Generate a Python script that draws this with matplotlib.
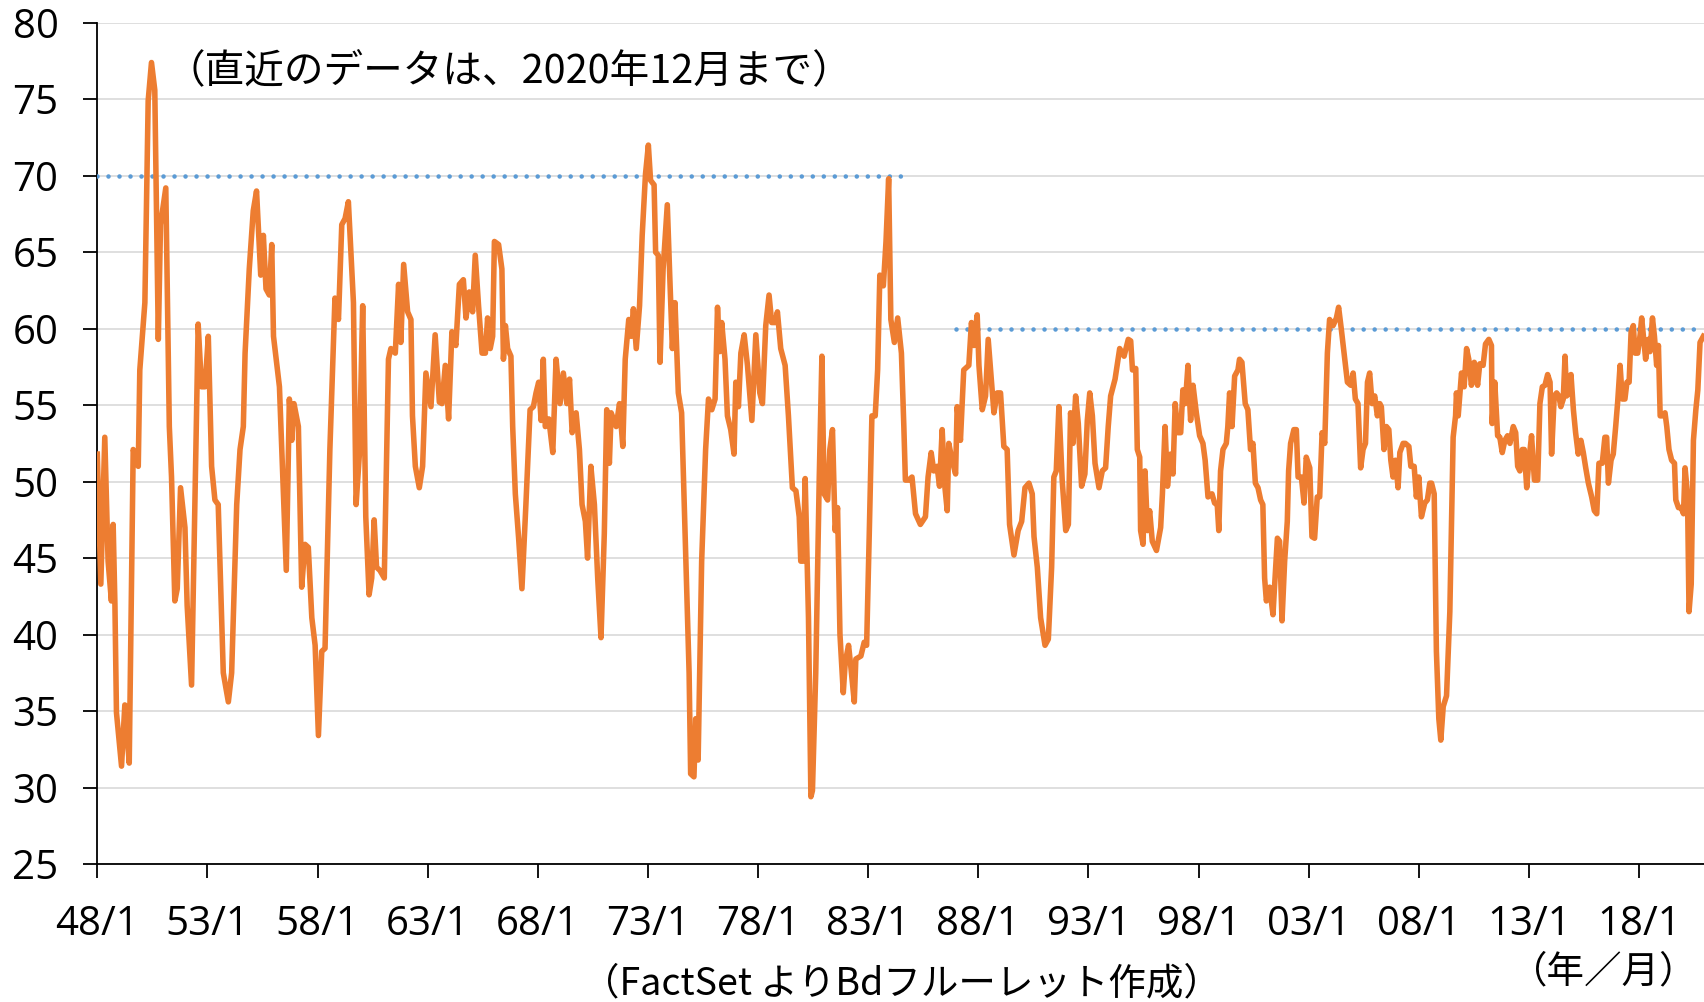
import matplotlib.pyplot as plt

# values (decimal year, index level)
years = [
    1948.00, 1948.16, 1948.34, 1948.49, 1948.64, 1948.72, 1948.80, 1948.87, 1949.10, 1949.25,
    1949.45, 1949.63, 1949.86, 1949.93, 1950.16, 1950.31, 1950.46, 1950.61, 1950.77, 1950.87,
    1951.11, 1951.27, 1951.37, 1951.52, 1951.63, 1951.78, 1951.98, 1952.08, 1952.28, 1952.58,
    1952.73, 1952.89, 1953.04, 1953.19, 1953.34, 1953.49, 1953.72, 1953.95, 1954.10, 1954.33,
    1954.48, 1954.63, 1954.71, 1954.90, 1955.08, 1955.23, 1955.42, 1955.54, 1955.66, 1955.81,
    1955.92, 1956.00, 1956.27, 1956.58, 1956.72, 1956.83, 1956.93, 1957.13, 1957.28, 1957.43,
    1957.58, 1957.74, 1957.89, 1958.04, 1958.19, 1958.34, 1958.56, 1958.79, 1958.95, 1959.10,
    1959.25, 1959.40, 1959.63, 1959.75, 1959.90, 1960.05, 1960.19, 1960.34, 1960.46, 1960.57,
    1960.68, 1960.83, 1961.03, 1961.22, 1961.33, 1961.53, 1961.68, 1961.78, 1961.91, 1962.09,
    1962.24, 1962.31, 1962.44, 1962.62, 1962.77, 1962.92, 1963.15, 1963.34, 1963.53, 1963.65,
    1963.80, 1963.95, 1964.10, 1964.28, 1964.44, 1964.62, 1964.74, 1964.89, 1965.04, 1965.16,
    1965.31, 1965.47, 1965.62, 1965.72, 1965.84, 1965.95, 1966.03, 1966.22, 1966.37, 1966.44,
    1966.53, 1966.63, 1966.78, 1966.86, 1966.98, 1967.13, 1967.28, 1967.46, 1967.65, 1967.80,
    1967.92, 1968.04, 1968.15, 1968.25, 1968.34, 1968.50, 1968.68, 1968.83, 1969.01, 1969.16,
    1969.32, 1969.44, 1969.56, 1969.74, 1969.89, 1970.01, 1970.16, 1970.26, 1970.41, 1970.57,
    1970.72, 1970.87, 1971.02, 1971.13, 1971.25, 1971.33, 1971.56, 1971.71, 1971.86, 1971.97,
    1972.13, 1972.24, 1972.34, 1972.47, 1972.62, 1972.74, 1972.89, 1973.02, 1973.12, 1973.28,
    1973.35, 1973.47, 1973.55, 1973.69, 1973.88, 1973.99, 1974.11, 1974.23, 1974.38, 1974.53,
    1974.69, 1974.87, 1974.94, 1975.09, 1975.17, 1975.28, 1975.44, 1975.62, 1975.75, 1975.90,
    1976.05, 1976.16, 1976.26, 1976.35, 1976.50, 1976.61, 1976.76, 1976.91, 1976.99, 1977.11,
    1977.22, 1977.37, 1977.52, 1977.72, 1977.90, 1978.08, 1978.20, 1978.35, 1978.50, 1978.62,
    1978.78, 1978.88, 1979.03, 1979.23, 1979.38, 1979.56, 1979.72, 1979.87, 1979.94, 1980.05,
    1980.14, 1980.29, 1980.40, 1980.47, 1980.62, 1980.78, 1980.90, 1981.00, 1981.16, 1981.26,
    1981.38, 1981.50, 1981.61, 1981.72, 1981.87, 1981.96, 1982.11, 1982.22, 1982.37, 1982.44,
    1982.67, 1982.82, 1982.93, 1983.05, 1983.17, 1983.32, 1983.43, 1983.53, 1983.69, 1983.81,
    1983.93, 1984.03, 1984.19, 1984.34, 1984.51, 1984.62, 1984.69, 1984.84, 1984.99, 1985.15,
    1985.37, 1985.60, 1985.72, 1985.86, 1985.98, 1986.13, 1986.24, 1986.36, 1986.48, 1986.59,
    1986.66, 1986.81, 1986.97, 1987.04, 1987.19, 1987.34, 1987.57, 1987.69, 1987.80, 1987.95,
    1988.03, 1988.18, 1988.33, 1988.45, 1988.56, 1988.71, 1988.86, 1989.01, 1989.16, 1989.31,
    1989.42, 1989.62, 1989.81, 1989.97, 1990.12, 1990.30, 1990.45, 1990.53, 1990.68, 1990.83,
    1991.03, 1991.18, 1991.33, 1991.43, 1991.54, 1991.66, 1991.81, 1991.97, 1992.09, 1992.19,
    1992.30, 1992.42, 1992.54, 1992.69, 1992.84, 1992.95, 1993.06, 1993.18, 1993.30, 1993.48,
    1993.63, 1993.78, 1993.90, 1994.01, 1994.21, 1994.42, 1994.62, 1994.81, 1994.92, 1995.00,
    1995.15, 1995.22, 1995.33, 1995.37, 1995.48, 1995.57, 1995.68, 1995.78, 1995.90, 1996.09,
    1996.28, 1996.36, 1996.48, 1996.59, 1996.73, 1996.84, 1996.94, 1997.06, 1997.19, 1997.29,
    1997.40, 1997.52, 1997.64, 1997.75, 1997.90, 1998.05, 1998.20, 1998.30, 1998.43, 1998.61,
    1998.73, 1998.85, 1998.92, 1999.00, 1999.11, 1999.26, 1999.33, 1999.41, 1999.52, 1999.64,
    1999.79, 1999.86, 1999.97, 2000.12, 2000.24, 2000.36, 2000.47, 2000.58, 2000.70, 2000.82,
    2000.92, 2001.00, 2001.08, 2001.23, 2001.38, 2001.45, 2001.58, 2001.68, 2001.79, 2001.91,
    2002.03, 2002.09, 2002.18, 2002.33, 2002.44, 2002.52, 2002.67, 2002.79, 2002.89, 2003.05,
    2003.15, 2003.27, 2003.39, 2003.50, 2003.61, 2003.73, 2003.85, 2003.95, 2004.11, 2004.26,
    2004.36, 2004.48, 2004.64, 2004.76, 2004.91, 2005.02, 2005.12, 2005.24, 2005.36, 2005.47,
    2005.58, 2005.67, 2005.77, 2005.88, 2006.00, 2006.12, 2006.23, 2006.30, 2006.42, 2006.53,
    2006.64, 2006.73, 2006.83, 2006.94, 2007.06, 2007.14, 2007.29, 2007.39, 2007.55, 2007.64,
    2007.79, 2007.89, 2008.00, 2008.12, 2008.27, 2008.39, 2008.50, 2008.58, 2008.70, 2008.80,
    2008.91, 2009.00, 2009.11, 2009.26, 2009.41, 2009.56, 2009.67, 2009.71, 2009.79, 2009.94,
    2010.06, 2010.17, 2010.27, 2010.39, 2010.52, 2010.67, 2010.77, 2010.92, 2011.03, 2011.18,
    2011.30, 2011.33, 2011.45, 2011.58, 2011.68, 2011.79, 2011.91, 2012.03, 2012.14, 2012.29,
    2012.40, 2012.49, 2012.59, 2012.70, 2012.79, 2012.90, 2013.00, 2013.12, 2013.25, 2013.40,
    2013.50, 2013.61, 2013.73, 2013.85, 2013.96, 2014.03, 2014.15, 2014.26, 2014.36, 2014.45,
    2014.56, 2014.64, 2014.71, 2014.82, 2014.91, 2015.02, 2015.12, 2015.24, 2015.36, 2015.47,
    2015.58, 2015.70, 2015.85, 2015.97, 2016.08, 2016.18, 2016.33, 2016.45, 2016.53, 2016.61,
    2016.73, 2016.83, 2016.94, 2017.03, 2017.14, 2017.24, 2017.36, 2017.45, 2017.55, 2017.64,
    2017.74, 2017.82, 2017.94, 2018.05, 2018.12, 2018.20, 2018.30, 2018.42, 2018.50, 2018.61,
    2018.70, 2018.80, 2018.88, 2018.96, 2019.06, 2019.18, 2019.26, 2019.36, 2019.48, 2019.61,
    2019.67, 2019.79, 2019.91, 2020.02, 2020.09, 2020.20, 2020.27, 2020.37, 2020.47, 2020.58,
    2020.67, 2020.77, 2020.92,
]
values = [
    51.8, 43.3, 52.9, 44.8, 42.2, 47.2, 42.0, 34.9, 31.4, 35.4,
    31.6, 52.1, 51.0, 57.3, 61.7, 74.9, 77.4, 75.6, 59.3, 66.8,
    69.2, 53.6, 50.3, 42.2, 43.0, 49.6, 47.0, 41.9, 36.7, 60.3,
    56.2, 56.2, 59.5, 51.0, 48.8, 48.5, 37.5, 35.6, 37.5, 48.5,
    52.1, 53.6, 58.4, 63.9, 67.7, 69.0, 63.5, 66.1, 62.6, 62.2,
    65.5, 59.5, 56.2, 44.2, 55.4, 52.7, 55.1, 53.6, 43.1, 45.9,
    45.7, 41.1, 39.3, 33.4, 38.9, 39.1, 52.1, 62.0, 60.6, 66.8,
    67.2, 68.3, 61.7, 48.5, 51.8, 61.5, 47.7, 42.6, 43.7, 47.5,
    44.4, 44.2, 43.7, 58.0, 58.7, 58.4, 62.9, 59.1, 64.2, 61.1,
    60.6, 54.3, 51.0, 49.6, 51.0, 57.1, 54.9, 59.6, 55.2, 55.1,
    57.6, 54.1, 59.8, 58.9, 62.9, 63.2, 60.7, 62.4, 61.1, 64.8,
    61.5, 58.4, 58.4, 60.7, 58.7, 59.5, 65.7, 65.5, 63.9, 58.0,
    60.2, 58.7, 58.2, 53.6, 49.2, 46.3, 43.0, 48.5, 54.7, 54.9,
    55.8, 56.5, 54.0, 58.0, 53.6, 54.1, 51.9, 58.0, 55.1, 57.1,
    55.1, 56.7, 53.2, 54.5, 52.1, 48.5, 47.4, 45.0, 51.0, 48.5,
    43.7, 39.8, 46.6, 54.7, 51.2, 54.5, 53.6, 55.1, 52.3, 58.0,
    60.6, 59.5, 61.3, 58.7, 61.5, 66.1, 70.1, 72.0, 69.7, 69.4,
    65.0, 64.8, 57.8, 63.9, 68.1, 63.5, 58.7, 61.7, 55.8, 54.5,
    46.6, 37.5, 30.9, 30.7, 34.5, 31.8, 44.8, 52.1, 55.4, 54.7,
    55.4, 61.4, 58.5, 60.4, 58.0, 54.3, 53.4, 51.8, 56.5, 54.9,
    58.4, 59.6, 57.6, 54.0, 59.6, 55.8, 55.1, 60.2, 62.2, 60.4,
    60.4, 61.1, 58.7, 57.6, 54.3, 49.6, 49.4, 47.7, 44.8, 44.8,
    50.2, 41.1, 29.4, 29.8, 37.5, 50.3, 58.2, 49.2, 48.8, 52.1,
    53.4, 46.8, 48.3, 40.0, 36.2, 38.2, 39.3, 37.8, 35.6, 38.4,
    38.6, 39.5, 39.3, 46.6, 54.3, 54.3, 57.3, 63.5, 62.8, 65.7,
    69.8, 60.6, 59.1, 60.7, 58.4, 53.6, 50.1, 50.1, 50.3, 47.9,
    47.2, 47.7, 50.3, 51.9, 50.7, 51.0, 49.7, 53.4, 49.7, 48.1,
    52.5, 51.4, 50.5, 54.9, 52.7, 57.3, 57.6, 60.4, 58.9, 60.9,
    57.6, 54.7, 55.6, 59.3, 57.3, 54.5, 55.8, 55.8, 52.3, 52.1,
    47.2, 45.2, 46.8, 47.4, 49.6, 49.9, 49.2, 46.4, 44.4, 41.1,
    39.3, 39.7, 44.4, 50.3, 50.7, 54.9, 50.1, 46.8, 47.2, 54.5,
    52.5, 55.6, 53.8, 49.7, 50.5, 54.0, 55.8, 54.3, 51.2, 49.6,
    50.7, 50.9, 53.6, 55.6, 56.7, 58.7, 58.2, 59.3, 59.2, 57.3,
    57.4, 52.1, 51.6, 46.8, 45.9, 50.7, 46.8, 48.1, 46.1, 45.5,
    47.0, 49.2, 53.6, 49.7, 51.8, 50.5, 55.1, 53.2, 53.2, 56.0,
    55.1, 57.6, 54.0, 56.3, 54.5, 53.0, 52.5, 51.4, 49.0, 49.2,
    48.6, 48.5, 46.8, 50.7, 52.1, 52.5, 53.6, 55.8, 53.6, 56.9,
    57.3, 58.0, 57.8, 55.1, 54.7, 52.1, 52.5, 49.9, 49.6, 48.8,
    48.5, 43.7, 42.2, 43.1, 41.3, 43.1, 46.3, 46.1, 40.9, 44.8,
    47.4, 50.7, 52.5, 53.4, 53.4, 50.3, 50.3, 48.6, 51.6, 50.9,
    46.4, 46.3, 49.0, 49.0, 53.2, 52.5, 58.4, 60.6, 60.2, 60.7,
    61.4, 60.0, 58.0, 56.5, 56.3, 57.1, 55.4, 55.1, 50.9, 52.1,
    52.5, 56.5, 57.1, 55.1, 55.6, 54.3, 55.1, 54.9, 52.1, 53.6,
    53.4, 51.4, 50.3, 51.4, 49.6, 51.9, 52.5, 52.5, 52.3, 51.0,
    51.0, 49.0, 50.3, 47.7, 48.6, 48.8, 49.9, 49.9, 49.2, 38.9,
    34.5, 33.1, 35.3, 36.0, 41.5, 52.9, 54.3, 55.8, 54.3, 57.1,
    56.2, 58.7, 58.0, 56.3, 57.8, 56.3, 57.7, 57.6, 59.0, 59.3,
    58.9, 53.8, 56.5, 53.0, 52.9, 51.9, 52.7, 53.0, 52.5, 53.6,
    53.2, 51.0, 50.7, 52.1, 52.1, 49.6, 51.4, 53.0, 50.1, 50.1,
    55.1, 56.2, 56.3, 57.0, 56.5, 51.8, 55.6, 55.8, 55.6, 54.9,
    55.4, 58.2, 55.6, 55.8, 57.0, 54.7, 53.2, 51.8, 52.7, 51.9,
    50.9, 49.9, 49.0, 48.1, 47.9, 51.2, 51.2, 52.9, 52.9, 49.9,
    51.4, 51.8, 53.6, 55.2, 57.6, 55.4, 55.4, 56.5, 56.5, 59.8,
    60.2, 58.4, 58.4, 59.6, 60.7, 59.5, 58.0, 59.3, 58.5, 60.7,
    59.5, 57.6, 58.9, 54.3, 54.3, 54.5, 53.6, 52.1, 51.4, 51.2,
    48.8, 48.3, 48.3, 47.9, 50.9, 49.2, 41.5, 43.3, 52.7, 54.7,
    56.0, 59.1, 59.5,
]

# dotted reference levels
ref_levels = [70, 60]
ref_start = [1948.0, 1987.0]
ref_end = [1984.85, 2020.95]

x_ticks = [1948, 1953, 1958, 1963, 1968, 1973, 1978, 1983, 1988, 1993, 1998, 2003, 2008, 2013, 2018]
x_labels = ['48/1', '53/1', '58/1', '63/1', '68/1', '73/1', '78/1', '83/1', '88/1',
            '93/1', '98/1', '03/1', '08/1', '13/1', '18/1']
y_ticks = [25, 30, 35, 40, 45, 50, 55, 60, 65, 70, 75, 80]

note = '（直近のデータは、2020年12月まで）'
source = '（FactSet よりBdフルーレット作成）'
unit = '（年／月）'

jp_font = ['Noto Sans CJK JP', 'DejaVu Sans']

fig = plt.figure(figsize=(17.04, 10.02), dpi=100)
ax = fig.add_axes([0.0571, 0.1377, 0.9429, 0.8396])

for lvl, x0, x1 in zip(ref_levels, ref_start, ref_end):
    ax.plot([x0, x1], [lvl, lvl], color='#5B9BD5', lw=3.3,
            linestyle=(0, (0.001, 2.4)), dash_capstyle='round', zorder=3)

ax.plot(years, values, color='#ED7D31', lw=4.0, solid_joinstyle='round', zorder=4)

ax.set_xlim(1948.0, 2020.95)
ax.set_ylim(25, 80)
ax.set_xticks(x_ticks)
ax.set_xticklabels(x_labels, family='Open Sans', fontsize=29)
ax.set_yticks(y_ticks)
ax.set_yticklabels([str(v) for v in y_ticks], family='Open Sans', fontsize=29)

ax.grid(axis='y', color='#D9D9D9', lw=1.2)
ax.set_axisbelow(True)
for s in ['top', 'right']:
    ax.spines[s].set_visible(False)
for s in ['left', 'bottom']:
    ax.spines[s].set_linewidth(1.3)
ax.tick_params(axis='both', direction='out', length=10, width=1.3)
ax.tick_params(axis='x', pad=19)
ax.tick_params(axis='y', pad=18)

fig.text(0.097, 0.928, note, family=jp_font, fontsize=28.5, va='center', ha='left')
fig.text(0.529, 0.018, source, family=jp_font, fontsize=27, va='center', ha='center')
fig.text(0.941, 0.03, unit, family=jp_font, fontsize=27, va='center', ha='center')

fig.savefig('out.png', dpi=100)
